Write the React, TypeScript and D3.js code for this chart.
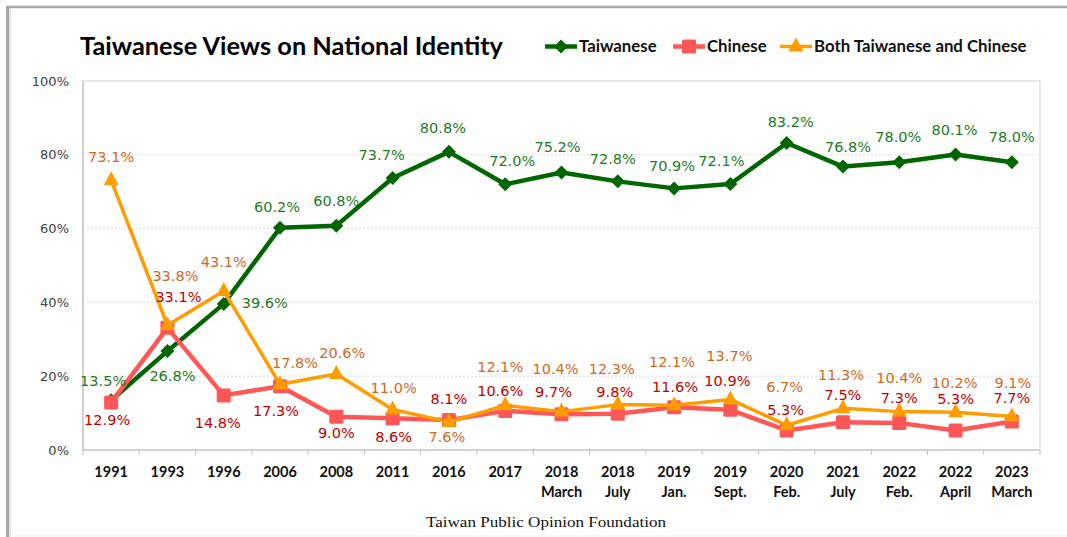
import React from "react";
import * as d3 from "d3";

const years = ["1991", "1993", "1996", "2006", "2008", "2011", "2016", "2017", "2018", "2018", "2019", "2019", "2020", "2021", "2022", "2022", "2023"];
const months = ["", "", "", "", "", "", "", "", "March", "July", "Jan.", "Sept.", "Feb.", "July", "Feb.", "April", "March"];

const taiwanese = [13.5, 26.8, 39.6, 60.2, 60.8, 73.7, 80.8, 72.0, 75.2, 72.8, 70.9, 72.1, 83.2, 76.8, 78.0, 80.1, 78.0];
const chinese = [12.9, 33.1, 14.8, 17.3, 9.0, 8.6, 8.1, 10.6, 9.7, 9.8, 11.6, 10.9, 5.3, 7.5, 7.3, 5.3, 7.7];
const both = [73.1, 33.8, 43.1, 17.8, 20.6, 11.0, 7.6, 12.1, 10.4, 12.3, 12.1, 13.7, 6.7, 11.3, 10.4, 10.2, 9.1];

const yTicks = [0, 20, 40, 60, 80, 100];

// label nudges (px) per point
const twOff = [[-8, -19], [5, 25], [41, -1], [-3, -21], [0, -25], [-11, -23], [-6, -24], [7, -23], [-4, -26], [-5, -22], [-2, -22], [-9, -23], [4, -21], [5, -20], [-1, -25], [-1, -25], [0, -25]];
const cnOff = [[-4, 18], [11, -31], [-6, 28], [-4, 25], [0, 16], [1, 19], [0, -21], [-5, -20], [-8, -22], [-3, -22], [1, -20], [-3, -29], [-1, -21], [0, -27], [0, -25], [0, -32], [0, -24]];
const bothOff = [[0, -23], [8, -49], [0, -29], [15, -21], [6, -21], [1, -21], [-2, 15], [-5, -38], [-6, -43], [-6, -36], [-2, -43], [-1, -44], [-2, -38], [-2, -33], [0, -34], [-1, -29], [1, -33]];

const W = 1067, H = 537;
const plot = { l: 83, r: 1040, t: 81, b: 450 };

const x = d3.scaleBand<number>().domain(d3.range(years.length)).range([plot.l, plot.r]);
const cx = (i: number) => (x(i) as number) + x.bandwidth() / 2;
const y = d3.scaleLinear().domain([0, 100]).range([plot.b, plot.t]);

const series = [
  { name: "Taiwanese", data: taiwanese, off: twOff, color: "#006600", label: "#1E7B1E", width: 4.5, marker: "diamond" },
  { name: "Chinese", data: chinese, off: cnOff, color: "#FF5757", label: "#C00000", width: 4.5, marker: "square" },
  { name: "Both Taiwanese and Chinese", data: both, off: bothOff, color: "#FF9C00", label: "#D0691F", width: 3.5, marker: "triangle" },
];

const legendX = [545, 673, 780];

function Marker({ type, px, py, color }: { type: string; px: number; py: number; color: string }) {
  if (type === "diamond") {
    const r = 7;
    return <path d={`M${px},${py - r}L${px + r},${py}L${px},${py + r}L${px - r},${py}Z`} fill={color} />;
  }
  if (type === "square") {
    return <rect x={px - 7} y={py - 7} width={14} height={14} rx={1.5} fill={color} />;
  }
  return <path d={`M${px},${py - 9}L${px + 7.5},${py + 5}L${px - 7.5},${py + 5}Z`} fill={color} />;
}

export default function App() {
  const line = d3.line<number>().x((_, i) => cx(i)).y((d) => y(d));
  const labelFont = "'DejaVu Sans', Verdana, sans-serif";
  const boldFont = "Lato, 'Open Sans', sans-serif";

  return (
    <svg width={W} height={H} style={{ position: "absolute", left: 0, top: 0, background: "#fff" }}>
      {/* outer frame */}
      <line x1={7.5} y1={6} x2={7.5} y2={H} stroke="#A6A6A6" strokeWidth={3} />
      <line x1={10} y1={6} x2={10} y2={H} stroke="#DADADA" strokeWidth={1.5} />
      <line x1={6} y1={7} x2={W} y2={7} stroke="#A6A6A6" strokeWidth={2.5} />
      <line x1={14} y1={536} x2={W} y2={536} stroke="#EEEEEE" strokeWidth={1} />

      <text x={80} y={55} fontFamily={boldFont} fontWeight={700} fontSize={24} fill="#000" textLength={423} lengthAdjust="spacingAndGlyphs">
        Taiwanese Views on National Identity
      </text>

      {/* legend */}
      {series.map((s, k) => (
        <g key={s.name}>
          <line x1={legendX[k]} x2={legendX[k] + 32} y1={46.5} y2={46.5} stroke={s.color} strokeWidth={s.width} />
          <Marker type={s.marker} px={legendX[k] + 16} py={46.5} color={s.color} />
          <text x={legendX[k] + 34} y={52} fontFamily={boldFont} fontWeight={700} fontSize={16.8} fill="#111">{s.name}</text>
        </g>
      ))}

      {/* grid */}
      {yTicks.filter((t) => t > 0 && t < 100).map((t) => (
        <line key={t} x1={plot.l} x2={plot.r} y1={y(t)} y2={y(t)} stroke="#D9D9D9" strokeWidth={1} strokeDasharray="2,2" />
      ))}
      <rect x={plot.l} y={plot.t} width={plot.r - plot.l} height={plot.b - plot.t} fill="none" stroke="#D0D0D0" strokeWidth={1} />
      <line x1={plot.l} x2={plot.r} y1={plot.b} y2={plot.b} stroke="#BFBFBF" strokeWidth={1.2} />
      <line x1={plot.l} x2={plot.l} y1={plot.t} y2={plot.b} stroke="#BFBFBF" strokeWidth={1.2} />
      {d3.range(years.length + 1).map((i) => {
        const tx = i < years.length ? (x(i) as number) : plot.r;
        return <line key={i} x1={tx} x2={tx} y1={plot.b} y2={plot.b + 5} stroke="#BFBFBF" strokeWidth={1} />;
      })}

      {/* y axis labels */}
      {yTicks.map((t) => (
        <text key={t} x={69} y={y(t)} dy="0.35em" textAnchor="end" fontFamily={labelFont} fontSize={13} fill="#404040">{t}%</text>
      ))}

      {/* x axis labels */}
      {years.map((yr, i) => (
        <g key={i}>
          <text x={cx(i)} y={477} textAnchor="middle" fontFamily={boldFont} fontWeight={700} fontSize={14.5} fill="#111">{yr}</text>
          {months[i] && (
            <text x={cx(i)} y={497} textAnchor="middle" fontFamily={boldFont} fontWeight={700} fontSize={14.5} fill="#111">{months[i]}</text>
          )}
        </g>
      ))}

      {/* series */}
      {series.map((s) => (
        <g key={s.name}>
          <path d={line(s.data) as string} fill="none" stroke={s.color} strokeWidth={s.width} strokeLinejoin="round" />
          {s.data.map((v, i) => (
            <Marker key={i} type={s.marker} px={cx(i)} py={y(v)} color={s.color} />
          ))}
        </g>
      ))}

      {/* data labels */}
      {series.map((s) => (
        <g key={s.name + "-lab"}>
          {s.data.map((v, i) => (
            <text key={i} x={cx(i) + s.off[i][0]} y={y(v) + s.off[i][1]} dy="0.35em" textAnchor="middle" fontFamily={labelFont} fontSize={14.5} fill={s.label}>
              {v.toFixed(1)}%
            </text>
          ))}
        </g>
      ))}

      <text x={546} y={527} textAnchor="middle" fontFamily="'Liberation Serif', 'Times New Roman', serif" fontSize={15} fill="#111" textLength={240} lengthAdjust="spacingAndGlyphs">
        Taiwan Public Opinion Foundation
      </text>
    </svg>
  );
}
